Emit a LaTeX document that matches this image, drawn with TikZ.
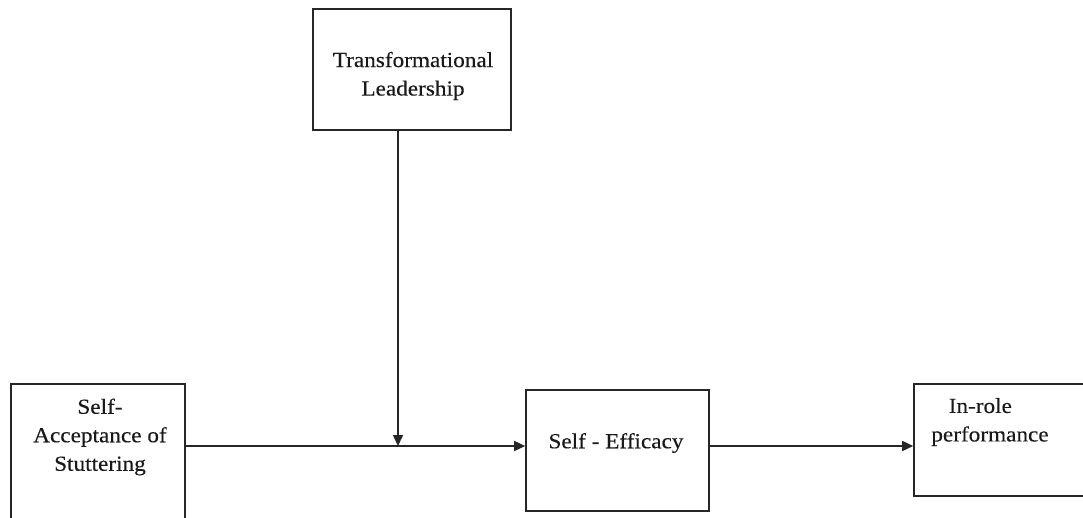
\documentclass[tikz,border=0pt]{standalone}
\usepackage{fontspec}
\setmainfont{Liberation Serif}[FakeStretch=1.08,FakeBold=0.25]
\usetikzlibrary{arrows.meta}
\begin{document}
\begin{tikzpicture}[x=1pt,y=-1pt,
  boxst/.style={draw=black!85,line width=1.6pt,inner sep=0pt,fill=none},
  lbl/.style={align=center,inner sep=0pt,font=\fontsize{21.5}{28.5}\selectfont,text=black!90},
  conn/.style={draw=black!85,line width=1.5pt,-{Triangle[length=11pt,width=10pt]}}]
\useasboundingbox (0,0) rectangle (1083,517);
\fill[white] (0,0) rectangle (1083,517);
% boxes
\node[boxst,minimum width=198pt,minimum height=121pt] (tl) at (412,69.5) {};
\node[boxst,minimum width=174pt,minimum height=141pt] (sa) at (98,454.5) {};
\node[boxst,minimum width=183pt,minimum height=121pt] (se) at (617.5,450.5) {};
\node[boxst,minimum width=181pt,minimum height=112pt] (ir) at (1004.5,440) {};
% texts
\node[lbl] (tlt) at (413,76) {Transformational\\Leadership};
\node[lbl] (sat) at (100,437) {Self-\\Acceptance of\\Stuttering};
\node[lbl] (set) at (616,443) {Self - Efficacy};
\node[lbl] (irt) at (990,422) {\hspace*{-0.9em}In-role\\performance};
% connectors
\coordinate (j) at (398,446);
\draw[conn] (sa.east |- j) -- (se.west |- j);
\draw[conn] (tl.south -| j) -- (j);
\draw[conn] (se.east |- j) -- (ir.west |- j);
\end{tikzpicture}
\end{document}
